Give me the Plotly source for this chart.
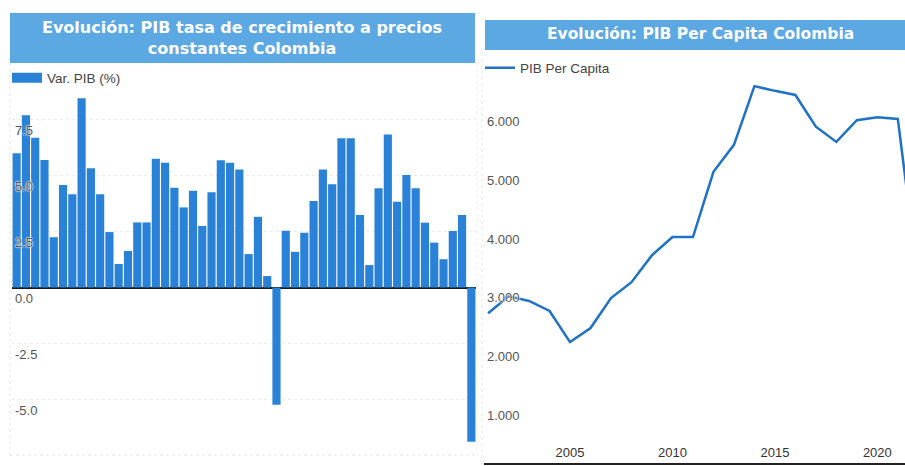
import plotly.graph_objects as go

# ---------------- data ----------------
gdp_years = list(range(1971, 2021))
gdp_growth = [5.98, 7.68, 6.67, 5.68, 2.24, 4.57, 4.15, 8.43, 5.31, 4.15,
              2.47, 1.05, 1.63, 2.90, 2.90, 5.74, 5.56, 4.45, 3.57, 4.31,
              2.74, 4.24, 5.67, 5.56, 5.26, 1.49, 3.15, 0.51, -5.23, 2.53,
              1.59, 2.44, 3.85, 5.26, 4.60, 6.65, 6.65, 3.23, 1.00, 4.42,
              6.82, 3.82, 5.01, 4.42, 2.89, 2.00, 1.26, 2.52, 3.23, -6.87]
growth_ticks = [-5.0, -2.5, 0.0, 2.5, 5.0, 7.5]
growth_ticktext = ["-5.0", "-2.5", "0.0", "2.5", "5.0", "7.5"]

pc_years = list(range(2001, 2023))
pc_values = [2550, 2840, 2760, 2590, 2060, 2300, 2810, 3080, 3540, 3850,
             3850, 4960, 5420, 6420, 6340, 6270, 5730, 5470, 5840, 5890,
             5860, 3100]
pc_ticks = [1000, 2000, 3000, 4000, 5000, 6000]
pc_ticktext = ["1.000", "2.000", "3.000", "4.000", "5.000", "6.000"]
pc_xticks = [2005, 2010, 2015, 2020]

title_left = "Evolución: PIB tasa de crecimiento a precios<br>constantes Colombia"
title_right = "Evolución: PIB Per Capita Colombia"
name_left = "Var. PIB (%)"
name_right = "PIB Per Capita"

# ---------------- style ----------------
W, H = 905, 466
FONT = "Liberation Sans, Arial, sans-serif"
TFONT = "DejaVu Sans, Verdana, sans-serif"
BAR = "#2a82d8"
LINE = "#1f72c4"
TITLEBG = "#5ca8e3"
TICKC = "#555555"
HALO = "0px 0px 2px #ffffff, 0px 0px 2px #ffffff, 0px 0px 1px #ffffff"

def px(x):
    return x / W

def py(y):
    return 1 - y / H

fig = go.Figure()

fig.add_trace(go.Bar(x=gdp_years, y=gdp_growth, marker=dict(color=BAR, line=dict(width=0)),
                     xaxis="x", yaxis="y", showlegend=False, name=name_left))
# legend swatch for the bar series (wide rectangle look)
fig.add_trace(go.Scatter(x=[None], y=[None], mode="lines", line=dict(color=BAR, width=10),
                         name=name_left, xaxis="x", yaxis="y", legend="legend"))
fig.add_trace(go.Scatter(x=pc_years, y=pc_values, mode="lines", line=dict(color=LINE, width=2.5),
                         name=name_right, xaxis="x2", yaxis="y2", legend="legend2"))

fig.update_layout(
    width=W, height=H,
    margin=dict(l=0, r=0, t=0, b=0),
    paper_bgcolor="white", plot_bgcolor="white",
    font=dict(family=FONT, size=12, color=TICKC),
    bargap=0.12,
    xaxis=dict(domain=[px(12), px(476)], range=[1970.5, 2020.5], showticklabels=False,
               showgrid=False, zeroline=False, showline=False, ticks=""),
    yaxis=dict(domain=[py(452), py(88)], range=[-7.33, 8.89], anchor="x",
               tickvals=growth_ticks, ticktext=growth_ticktext,
               ticklabelposition="inside", ticklabelshift=11, ticks="",
               tickfont=dict(size=13, color=TICKC, family=FONT, shadow=HALO),
               showgrid=True, gridcolor="#ebebeb", griddash="dot", gridwidth=1,
               zeroline=True, zerolinecolor="#1a1a1a", zerolinewidth=2, showline=False),
    xaxis2=dict(domain=[px(484), 1.0], range=[2000.8, 2021.35], anchor="y2",
                tickvals=pc_xticks, ticklabelposition="inside", ticklabelstandoff=3, ticks="",
                tickfont=dict(size=13, color="#333333", family=FONT),
                showgrid=False, zeroline=False, showline=True, linecolor="#222222", linewidth=2),
    yaxis2=dict(domain=[py(463), py(75)], range=[0, 6610], anchor="x2",
                tickvals=pc_ticks, ticktext=pc_ticktext,
                ticklabelposition="inside", ticklabelshift=11, ticks="",
                tickfont=dict(size=13, color=TICKC, family=FONT, shadow=HALO),
                showgrid=False, zeroline=False, showline=False),
    legend=dict(x=px(7), y=py(78), xanchor="left", yanchor="middle", bgcolor="rgba(0,0,0,0)",
                font=dict(size=13.5, color="#444444", family=FONT)),
    legend2=dict(x=px(480), y=py(68), xanchor="left", yanchor="middle", bgcolor="rgba(0,0,0,0)",
                 font=dict(size=13.5, color="#444444", family=FONT)),
    shapes=[
        dict(type="rect", xref="paper", yref="paper", x0=px(10), x1=px(475), y0=py(63), y1=py(13),
             fillcolor=TITLEBG, line=dict(width=0), layer="below"),
        dict(type="rect", xref="paper", yref="paper", x0=px(485), x1=1.0, y0=py(50), y1=py(20),
             fillcolor=TITLEBG, line=dict(width=0), layer="below"),
        dict(type="line", xref="paper", yref="paper", x0=px(10), x1=px(10), y0=py(456), y1=py(64),
             line=dict(color="#e6e6e6", width=1, dash="dot")),
        dict(type="line", xref="paper", yref="paper", x0=px(10), x1=px(477), y0=py(455), y1=py(455),
             line=dict(color="#e6e6e6", width=1, dash="dot")),
        dict(type="line", xref="paper", yref="paper", x0=px(477), x1=px(477), y0=py(456), y1=py(64),
             line=dict(color="#eeeeee", width=1, dash="dot")),
        dict(type="line", xref="paper", yref="paper", x0=px(482), x1=px(482), y0=py(464), y1=py(50),
             line=dict(color="#e6e6e6", width=1, dash="dot")),
    ],
    annotations=[
        dict(text="<b>" + title_left + "</b>", xref="paper", yref="paper",
             x=px(242.5), y=py(38), xanchor="center", yanchor="middle", showarrow=False,
             font=dict(size=16, color="white", family=TFONT)),
        dict(text="<b>" + title_right + "</b>", xref="paper", yref="paper",
             x=px(700), y=py(34), xanchor="center", yanchor="middle", showarrow=False,
             font=dict(size=15.5, color="white", family=TFONT)),
    ],
)

fig.write_html("out.html", config={"displayModeBar": False},
               post_script="document.body.style.margin='0';document.body.style.padding='0';")
